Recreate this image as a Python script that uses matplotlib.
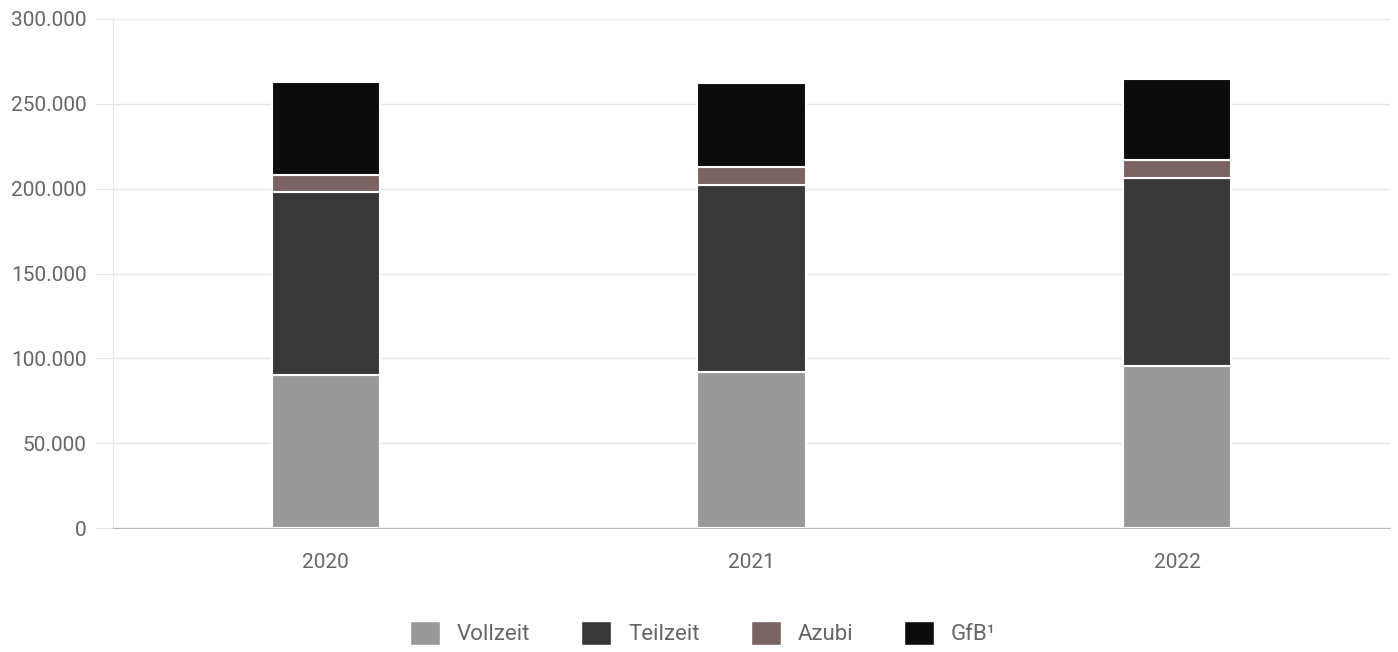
import matplotlib
matplotlib.use("Agg")
import matplotlib.pyplot as plt
from matplotlib.ticker import FuncFormatter
from matplotlib.patches import Patch
import numpy as np

years = ["2020", "2021", "2022"]
vollzeit = [89900, 91900, 95400]
teilzeit = [108400, 110200, 111100]
azubi = [10000, 10600, 10400]
gfb = [54400, 49700, 47500]
series_names = ["Vollzeit", "Teilzeit", "Azubi", "GfB¹"]
colors = ["#999999", "#383838", "#7a6362", "#0c0c0c"]

plt.rcParams['font.family'] = ['Roboto', 'DejaVu Sans']

fig = plt.figure(figsize=(13.98, 6.52), dpi=100)
ax = fig.add_axes([113/1398, 1-528/652, (1390-113)/1398, (528-19)/652])

x = np.arange(len(years))
bottom = np.zeros(len(years))
for vals, col, name in zip([vollzeit, teilzeit, azubi, gfb], colors, series_names):
    ax.bar(x, vals, bottom=bottom, width=0.254, color=col, edgecolor="white",
           linewidth=1.5, label=name, zorder=3)
    bottom += np.array(vals)

ax.set_xlim(-0.5, 2.5)
ax.set_ylim(0, 300000)
ax.set_yticks(np.arange(0, 300001, 50000))
ax.yaxis.set_major_formatter(FuncFormatter(lambda v, p: f"{int(v):,}".replace(",", ".")))
ax.set_xticks(x)
ax.set_xticklabels(years)
ax.grid(axis="y", color="#e6e6e6", linewidth=1, zorder=0)
for s in ["top", "right"]:
    ax.spines[s].set_visible(False)
ax.spines["left"].set_color("#e6e6e6")
ax.spines["bottom"].set_color("#bbbbbb")
ax.tick_params(axis="y", length=13, color="#e6e6e6", labelcolor="#666666", labelsize=15, pad=6)
ax.tick_params(axis="x", length=0, labelcolor="#666666", labelsize=15, pad=18)

handles = [Patch(facecolor=c, edgecolor="white", label=n) for c, n in zip(colors, series_names)]
leg = fig.legend(handles=handles, loc="center", bbox_to_anchor=(703/1398, 1-633/652), ncol=4,
                 frameon=False, fontsize=16, handlelength=1.35, handleheight=1.35,
                 columnspacing=2.3, handletextpad=0.75)
for t in leg.get_texts():
    t.set_color("#666666")

fig.savefig("out.png", dpi=100)
